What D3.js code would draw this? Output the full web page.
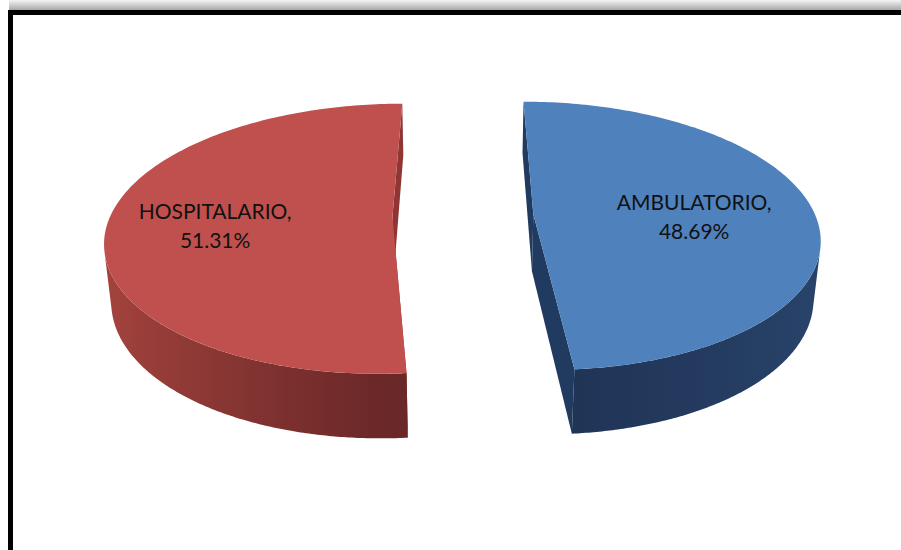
<!DOCTYPE html>
<html>
<head>
<meta charset="utf-8">
<script src="https://cdn.jsdelivr.net/npm/d3@7"></script>
<style>
  html, body { margin: 0; padding: 0; background: #fff; overflow: hidden; }
  svg { display: block; }
</style>
</head>
<body>
<svg id="chart" width="901" height="550"></svg>
<script>
// Slice data
const categories = ["AMBULATORIO", "HOSPITALARIO"];
const shares = [48.69, 51.31];
const shareLabels = ["48.69%", "51.31%"];

const W = 901, H = 550;
const svg = d3.select("#chart");
const defs = svg.append("defs");

// Frame: soft grey band above a heavy black border
const band = defs.append("linearGradient").attr("id", "topBand")
  .attr("x1", 0).attr("y1", 0).attr("x2", 0).attr("y2", 1);
band.append("stop").attr("offset", 0).attr("stop-color", "#f4f4f4");
band.append("stop").attr("offset", 1).attr("stop-color", "#a8a8a8");
svg.append("rect").attr("x", 9).attr("y", 0).attr("width", W - 9).attr("height", 10)
  .attr("fill", "url(#topBand)");
svg.append("rect").attr("x", 10.5).attr("y", 12.5)
  .attr("width", W + 40).attr("height", H + 40)
  .attr("fill", "none").attr("stroke", "#000").attr("stroke-width", 5);

// 3D pie projection (perspective camera tilted above the disc)
const S = 282;                 // pixels per unit radius at the disc centre
const D = 5.47;                // camera distance in radii
const phi = 27.7 * Math.PI / 180;
const cphi = Math.cos(phi), sphi = Math.sin(phi);
const cx = 463, cy = 215.5;
const thickness = 0.234;       // disc height in radii
const explode = 0.25;          // slice offset in radii
const camera = [0, -D * cphi, D * sphi];

function project(X, Y, Z) {
  const d = Y * cphi - Z * sphi + D;
  const k = S * D / d;
  return [cx + X * k, cy - (Y * sphi + Z * cphi) * k];
}

const color = d3.scaleOrdinal(categories, ["#4f81bd", "#c0504d"]);
const wallDark = d3.scaleOrdinal(categories, ["#1f3354", "#6b2828"]);
const wallLight = d3.scaleOrdinal(categories, ["#29446c", "#a8453f"]);
const sideColor = d3.scaleOrdinal(categories, ["#213a5f", "#8f3634"]);

const rows = categories.map((name, i) => ({ name, share: shares[i], label: shareLabels[i] }));
const pie = d3.pie().sort(null).value(d => d.share).startAngle(0).endAngle(2 * Math.PI);
const arcs = pie(rows);

const line = d3.line().curve(d3.curveLinearClosed);
const g = svg.append("g");

arcs.forEach((a, idx) => {
  const name = a.data.name;
  const mid = (a.startAngle + a.endAngle) / 2;
  const ox = explode * Math.sin(mid), oy = explode * Math.cos(mid);
  const rim = (t, z) => project(ox + Math.sin(t), oy + Math.cos(t), z);
  const hub = z => project(ox, oy, z);
  const slice = g.append("g").attr("class", "slice");

  // radial cut faces
  [a.startAngle, a.endAngle].forEach(t => {
    slice.append("path")
      .attr("d", line([hub(0), rim(t, 0), rim(t, -thickness), hub(-thickness)]))
      .attr("fill", sideColor(name));
  });

  // outer wall: the camera-facing stretch of the rim, one path with a shading gradient
  const N = 360;
  const facing = [];
  for (let i = 0; i <= N; i++) {
    const t = a.startAngle + (a.endAngle - a.startAngle) * i / N;
    const nx = Math.sin(t), ny = Math.cos(t);
    const f = nx * (camera[0] - ox - nx) + ny * (camera[1] - oy - ny);
    if (f > 0) facing.push(t);
  }
  if (facing.length > 1) {
    const topPts = facing.map(t => rim(t, 0));
    const botPts = facing.map(t => rim(t, -thickness)).reverse();
    const xs = topPts.map(p => p[0]);
    const x0 = d3.min(xs), x1 = d3.max(xs);
    const shade = d3.interpolateRgb(wallDark(name), wallLight(name));
    const grad = defs.append("linearGradient").attr("id", "wall" + idx)
      .attr("gradientUnits", "userSpaceOnUse")
      .attr("x1", x0).attr("y1", 0).attr("x2", x1).attr("y2", 0);
    facing.map((t, i) => ({ x: xs[i], t }))
      .sort((p, q) => p.x - q.x)
      .filter((p, i) => i % 6 === 0)
      .forEach(p => {
        const nx = Math.sin(p.t);
        const lit = name === "HOSPITALARIO" ? Math.max(0, -nx) : Math.max(0, nx);
        grad.append("stop")
          .attr("offset", (p.x - x0) / (x1 - x0))
          .attr("stop-color", shade(lit));
      });
    slice.append("path")
      .attr("d", line(topPts.concat(botPts)))
      .attr("fill", `url(#wall${idx})`);
  }

  // top face
  const pts = [hub(0)];
  for (let i = 0; i <= 180; i++) {
    pts.push(rim(a.startAngle + (a.endAngle - a.startAngle) * i / 180, 0));
  }
  slice.append("path")
    .attr("d", line(pts))
    .attr("fill", color(name));

  // data label
  const lr = 0.6;
  const [lx, ly] = project(ox + lr * Math.sin(mid), oy + lr * Math.cos(mid), 0);
  const tx = lx - 7;
  const text = slice.append("text")
    .attr("x", tx).attr("y", ly + 3)
    .attr("text-anchor", "middle")
    .attr("font-family", "Lato, 'Open Sans', sans-serif")
    .attr("font-size", 21)
    .attr("fill", "#111");
  text.append("tspan").attr("x", tx).attr("dy", "-0.2em").text(name + ",");
  text.append("tspan").attr("x", tx).attr("dy", 29).text(a.data.label);
});
</script>
</body>
</html>
